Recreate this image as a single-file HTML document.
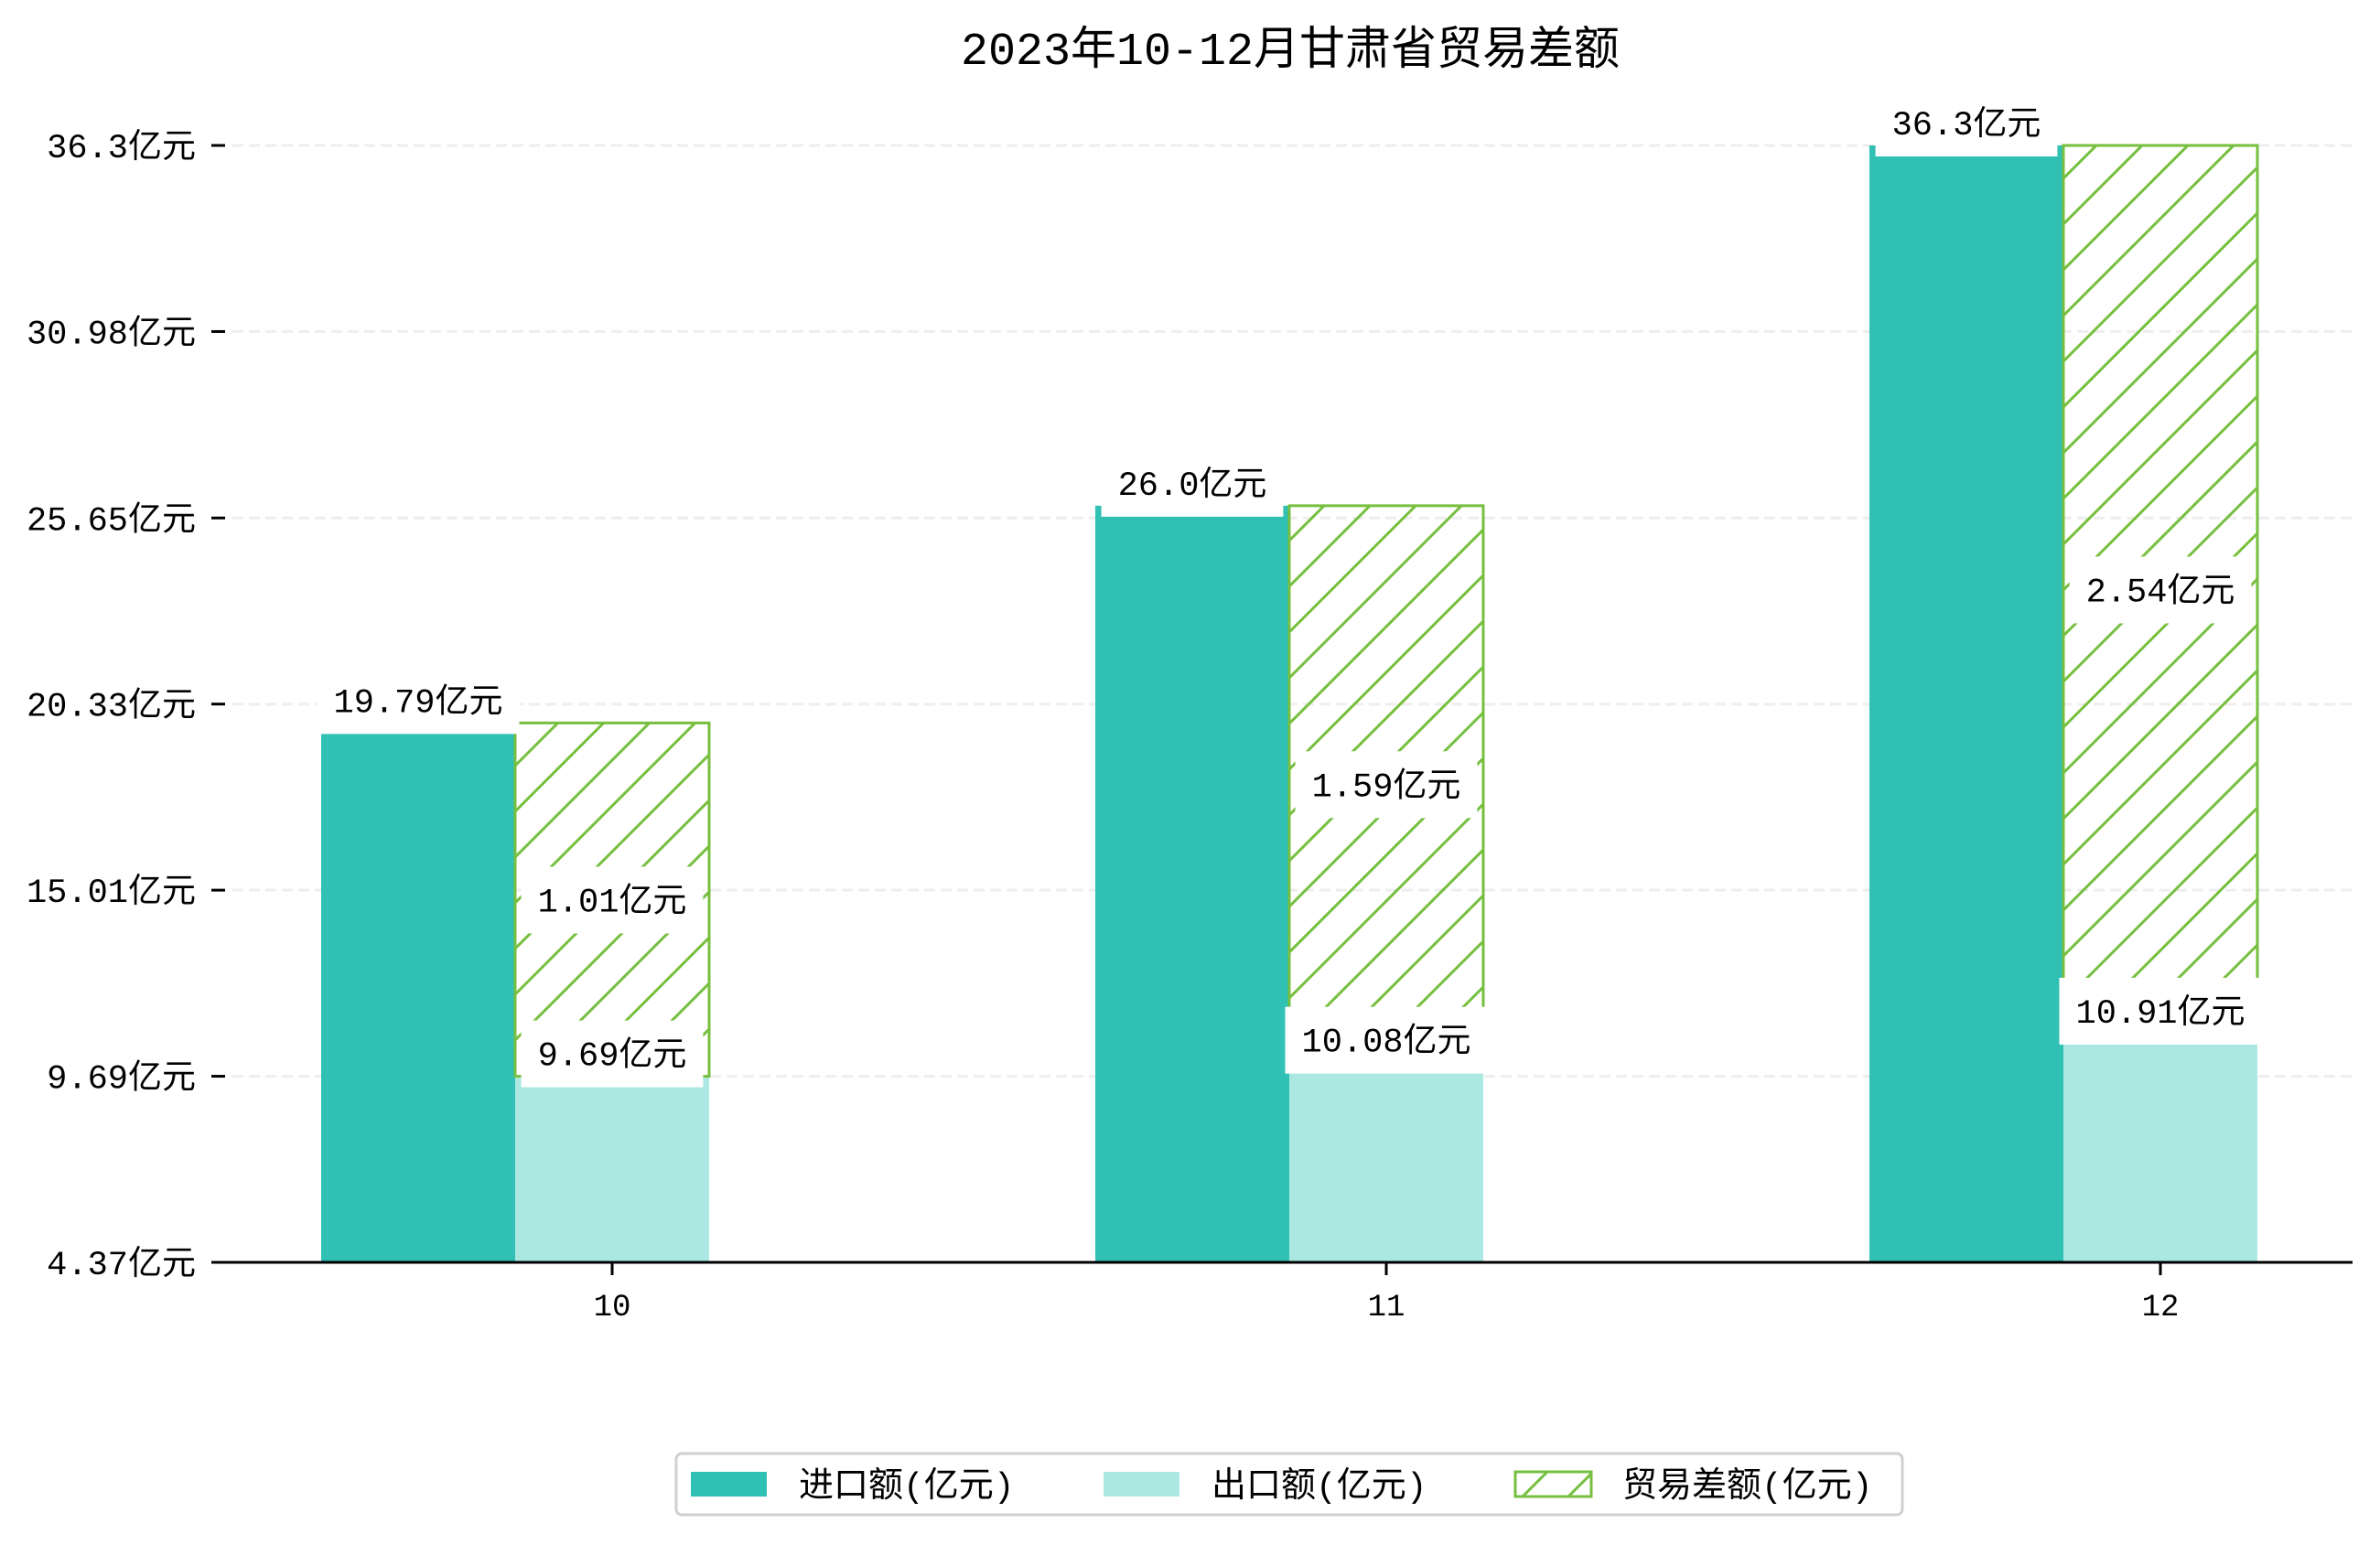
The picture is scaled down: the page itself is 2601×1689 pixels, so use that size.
<!DOCTYPE html>
<html><head><meta charset="utf-8">
<style>
html,body{margin:0;padding:0;background:#fff;}
svg{display:block;}
text{font-family:"Liberation Mono","Noto Sans CJK SC",monospace;fill:#000;}
</style></head>
<body>
<svg id="chart" width="2601" height="1689" viewBox="0 0 2601 1689" xmlns="http://www.w3.org/2000/svg">
<defs>
<pattern id="hatch" patternUnits="userSpaceOnUse" width="50" height="50">
<path d="M-5,5 L5,-5 M0,50 L50,0 M45,55 L55,45" stroke="#77bf3f" stroke-width="3"/>
</pattern>
</defs>
<text x="1410" y="70" font-size="50" text-anchor="middle">2023年10-12月甘肃省贸易差额</text>
<g id="grid"></g>
<g id="bars"></g>
<g id="axes"></g>
<g id="labels"></g>
<g>
<rect x="739" y="1589" width="1340" height="67" rx="6" fill="#fff" stroke="#d0d0d0" stroke-width="3"/>
<rect x="755" y="1609" width="83" height="27" fill="#30c0b4"/>
<text x="873" y="1636" font-size="38">进口额(亿元)</text>
<rect x="1206" y="1609" width="83" height="27" fill="#abe8e2"/>
<text x="1324" y="1636" font-size="38">出口额(亿元)</text>
<rect x="1656" y="1609" width="83" height="27" fill="url(#hatch)" stroke="#77bf3f" stroke-width="3"/>
<text x="1773" y="1636" font-size="38">贸易差额(亿元)</text>
</g>
</svg>
<script>
const categories = ["10", "11", "12"];
const importValues = [19.79, 26.0, 36.3];
const exportValues = [9.69, 10.08, 10.91];
const balanceLabels = ["1.01", "1.59", "2.54"];
const yTicks = [4.37, 9.69, 15.01, 20.33, 25.65, 30.98, 36.3];
const yTickLabels = ["4.37", "9.69", "15.01", "20.33", "25.65", "30.98", "36.3"];

const NS = "http://www.w3.org/2000/svg";
const X0 = 236, X1 = 2571, Y0 = 1380, Y1 = 159;
const yMin = 4.37, yMax = 36.3;
const groupStart = 669, groupStep = 846, barW = 212;
function y(v){ return Y0 - (v - yMin) / (yMax - yMin) * (Y0 - Y1); }
function xc(i){ return groupStart + i * groupStep; }
function mk(tag, attrs, parent){
  const e = document.createElementNS(NS, tag);
  for (const k in attrs) e.setAttribute(k, attrs[k]);
  parent.appendChild(e);
  return e;
}
const grid = document.getElementById('grid');
const axes = document.getElementById('axes');
const bars = document.getElementById('bars');
const labels = document.getElementById('labels');

yTicks.forEach((t, i) => {
  const yy = y(t);
  if (i > 0) {
    const g = mk('line', {x1: 254, x2: X1, y1: yy, y2: yy, stroke: '#eeeeee', 'stroke-width': 3, 'stroke-dasharray': '12,6'}, grid);
    
    
  }
  const tk = mk('line', {x1: 231, x2: 246, y1: yy, y2: yy, stroke: '#000', 'stroke-width': 3}, axes);
  
  
  const lb = mk('text', {x: 214, y: yy + 13, 'font-size': 37, 'text-anchor': 'end'}, axes);
  lb.textContent = yTickLabels[i] + '亿元';
  
  
});
const ax = mk('line', {x1: X0, x2: X1, y1: Y0, y2: Y0, stroke: '#000', 'stroke-width': 3}, axes);



function label(txt, cx, cy, name){
  const g = mk('g', {}, labels);
  
  
  const r = mk('rect', {fill: '#fff'}, g);
  const t = mk('text', {x: cx, y: cy + 13, 'font-size': 37, 'text-anchor': 'middle'}, g);
  t.textContent = txt;
  const w = t.getComputedTextLength ? t.getComputedTextLength() : txt.length * 25;
  r.setAttribute('x', cx - w / 2 - 18);
  r.setAttribute('y', cy - 36);
  r.setAttribute('width', w + 36);
  r.setAttribute('height', 73);
}

categories.forEach((c, i) => {
  const cx = xc(i);
  const b = cx - barW / 2;
  const imp = mk('rect', {x: b - barW, y: y(importValues[i]), width: barW, height: Y0 - y(importValues[i]), fill: '#30c0b4'}, bars);
  
  
  const ex = mk('rect', {x: b, y: y(exportValues[i]), width: barW, height: Y0 - y(exportValues[i]), fill: '#abe8e2'}, bars);
  
  
  const bal = mk('rect', {x: b, y: y(importValues[i]), width: barW, height: y(exportValues[i]) - y(importValues[i]), fill: 'url(#hatch)', stroke: '#77bf3f', 'stroke-width': 3}, bars);
  
  
  const tk = mk('line', {x1: cx, x2: cx, y1: Y0, y2: Y0 + 14, stroke: '#000', 'stroke-width': 3}, axes);
  
  
  const xl = mk('text', {x: cx, y: Y0 + 58, 'font-size': 34, 'text-anchor': 'middle'}, axes);
  xl.textContent = c;
  
  
});
categories.forEach((c, i) => {
  const cx = xc(i);
  label(importValues[i] + (Number.isInteger(importValues[i]) ? '.0' : '') + '亿元', cx - barW, y(importValues[i]) - 25, 'import-value-label');
  label(exportValues[i] + '亿元', cx, y(exportValues[i]) - 25, 'export-value-label');
  label(balanceLabels[i] + '亿元', cx, (y(importValues[i]) + y(exportValues[i])) / 2, 'balance-value-label');
});
</script>
</body></html>
